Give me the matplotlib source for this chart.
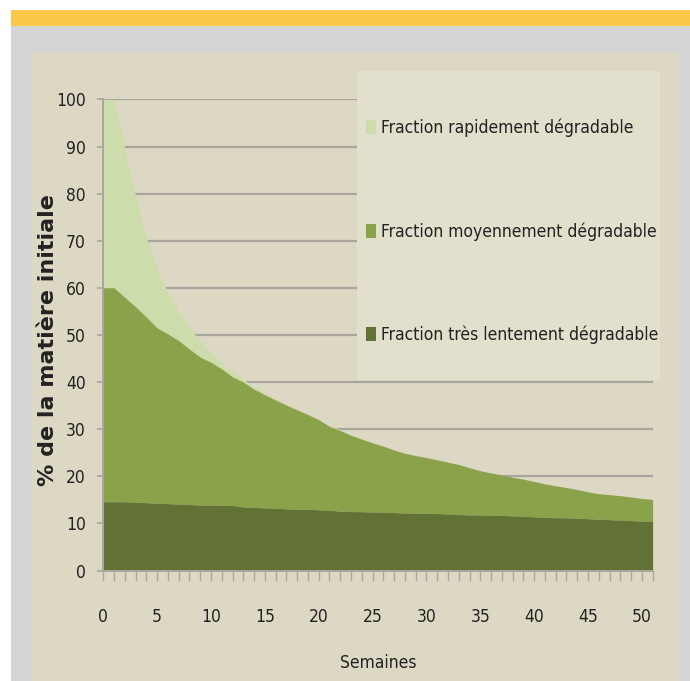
import numpy as np
import matplotlib.pyplot as plt
from matplotlib.patches import Rectangle, Patch

plt.rcParams['font.family'] = ['DejaVu Sans']
plt.rcParams['font.stretch'] = 'condensed'

# semaines 0..51
semaines = list(range(52))

# haut de la couche "très lentement dégradable"
lent = [14.6, 14.6, 14.6, 14.5, 14.4, 14.3, 14.2, 14.1, 14.0, 13.9,
        13.9, 13.8, 13.8, 13.5, 13.4, 13.3, 13.2, 13.1, 13.0, 13.0,
        12.9, 12.8, 12.6, 12.5, 12.5, 12.4, 12.4, 12.3, 12.2, 12.2,
        12.1, 12.1, 12.0, 11.9, 11.8, 11.8, 11.7, 11.7, 11.6, 11.5,
        11.4, 11.3, 11.2, 11.2, 11.1, 11.0, 10.9, 10.8, 10.7, 10.6,
        10.5, 10.4]

# haut de la couche "moyennement dégradable" (cumulé)
moyen = [60.0, 60.0, 58.0, 56.0, 53.8, 51.5, 50.2, 48.8, 47.0, 45.3,
         44.2, 42.8, 41.1, 40.0, 38.5, 37.3, 36.2, 35.1, 34.1, 33.1,
         32.0, 30.6, 29.7, 28.7, 27.9, 27.1, 26.4, 25.6, 24.9, 24.4,
         24.0, 23.5, 23.0, 22.5, 21.8, 21.2, 20.7, 20.3, 19.8, 19.4,
         18.9, 18.4, 18.0, 17.6, 17.2, 16.7, 16.3, 16.1, 15.9, 15.6,
         15.3, 15.1]

# total (haut de la couche "rapidement dégradable")
total = [100.0, 100.0, 89.5, 79.5, 70.5, 64.0, 59.0, 55.0, 51.5, 48.7,
         46.3, 44.2, 42.2, 40.6, 39.0, 37.7, 36.5, 35.4, 34.3, 33.3,
         32.2, 30.8, 29.9, 28.8, 27.9, 27.1, 26.4, 25.6, 24.9, 24.4,
         24.0, 23.5, 23.0, 22.5, 21.8, 21.2, 20.7, 20.3, 19.8, 19.4,
         18.9, 18.4, 18.0, 17.6, 17.2, 16.7, 16.3, 16.1, 15.9, 15.6,
         15.3, 15.1]

noms = ['Fraction rapidement dégradable',
        'Fraction moyennement dégradable',
        'Fraction très lentement dégradable']
couleurs = ['#cddcab', '#8aa34b', '#617234']

W, H = 690, 681
fig = plt.figure(figsize=(W / 100, H / 100), dpi=100, facecolor='white')

# cadres de fond (pixels -> fraction de figure)
def rect_px(x0, y0, x1, y1, c):
    fig.patches.append(Rectangle((x0 / W, 1 - y1 / H), (x1 - x0) / W, (y1 - y0) / H,
                                 transform=fig.transFigure, facecolor=c,
                                 edgecolor='none', zorder=-10))

rect_px(11, 10, 690, 26, '#fac94c')
rect_px(11, 26, 690, 681, '#d5d5d8')
rect_px(31, 52, 680, 681, '#ddd8c3')

ax = fig.add_axes([103.3 / W, 1 - 570.5 / H, (652.6 - 103.3) / W, (570.5 - 99.5) / H])
ax.set_facecolor('none')

x = np.array(semaines)
ax.fill_between(x, moyen, total, color=couleurs[0], lw=0, zorder=2)
ax.fill_between(x, lent, moyen, color=couleurs[1], lw=0, zorder=2)
ax.fill_between(x, 0, lent, color=couleurs[2], lw=0, zorder=2)

ax.set_xlim(0, 51)
ax.set_ylim(0, 100)
ax.set_yticks(range(0, 101, 10))
ax.set_xticks(range(0, 51, 5))
ax.set_xticks(range(0, 52), minor=True)

gris = '#a8a69e'
ax.yaxis.grid(True, color=gris, lw=1.6, zorder=0)
ax.set_axisbelow(True)
for s in ['top', 'right']:
    ax.spines[s].set_visible(False)
for s in ['left', 'bottom']:
    ax.spines[s].set_color(gris)
    ax.spines[s].set_linewidth(1.4)
    ax.spines[s].set_zorder(3)

ax.tick_params(axis='y', direction='out', length=4.5, width=1.2, color=gris,
               pad=8, labelsize=12.5, labelcolor='#222222')
ax.tick_params(axis='x', which='both', direction='out', length=7, width=1.0,
               color=gris, pad=20, labelsize=12.5, labelcolor='#222222')

ax.set_xlabel('Semaines', fontsize=12.5, color='#222222', va='center')
ax.xaxis.set_label_coords(0.5, -0.196)
ax.set_ylabel('% de la matière initiale', fontsize=16, fontweight='bold',
              fontstretch='normal', color='#222222', va='center')
ax.yaxis.set_label_coords(-0.1007, 0.489)

# boîte de légende
ax.add_patch(Rectangle((0.462, 0.4045), 1.0135 - 0.462, 1.0605 - 0.4045,
                       transform=ax.transAxes, facecolor='#e2dfcc', edgecolor='none',
                       zorder=1.5, clip_on=False))
poignees = [Patch(facecolor=c, edgecolor='none') for c in couleurs]
leg = ax.legend(poignees, noms, loc='upper left', bbox_to_anchor=(0.465, 0.9735),
                frameon=False, fontsize=12.5, handlelength=0.6, handleheight=0.85,
                handletextpad=0.3, labelspacing=4.88, borderaxespad=0)
for t in leg.get_texts():
    t.set_color('#222222')

fig.savefig('out.png', dpi=100, facecolor='white')
